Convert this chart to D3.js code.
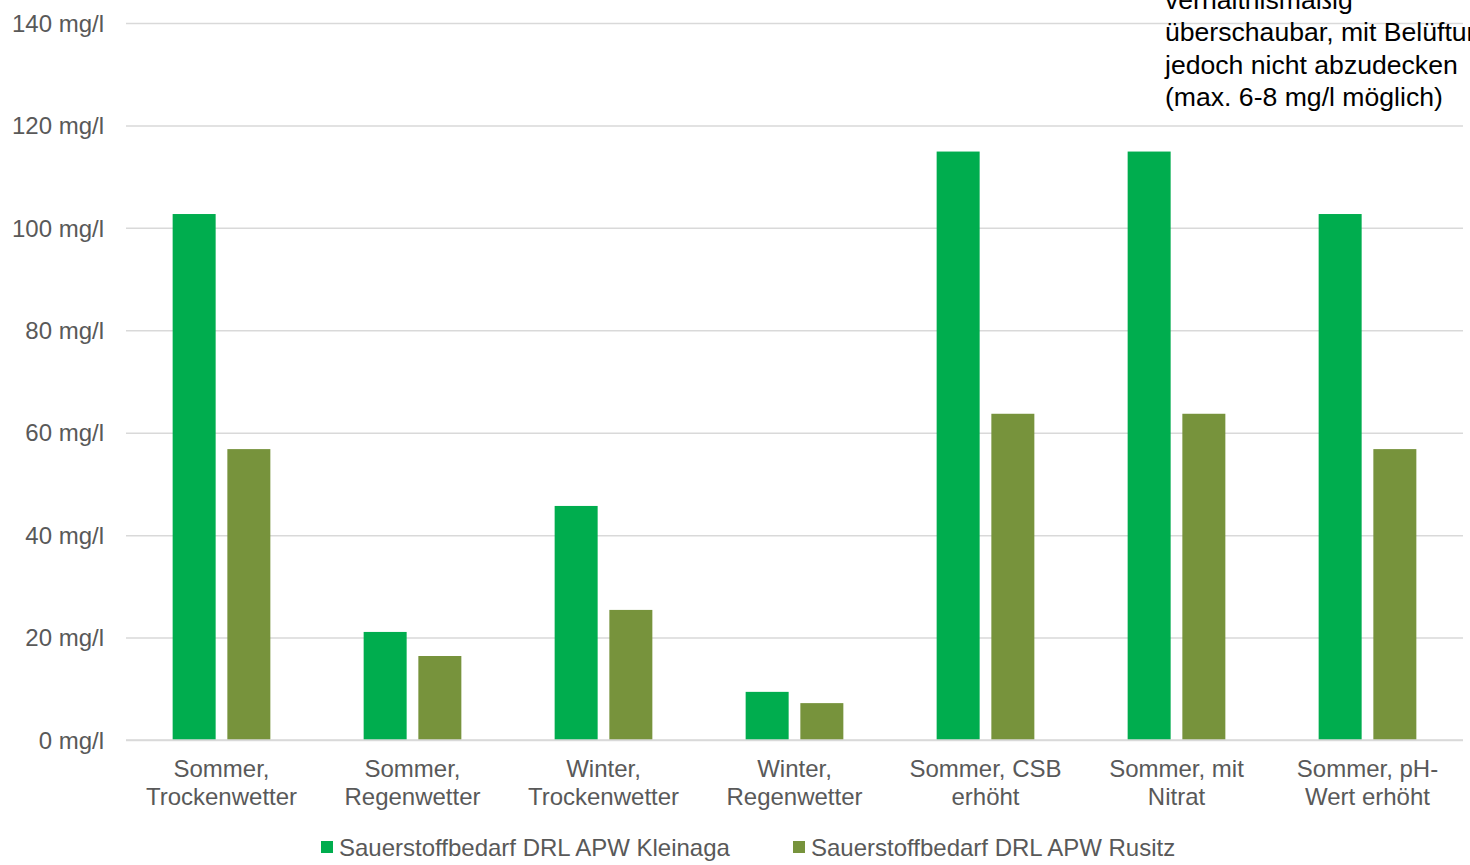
<!DOCTYPE html>
<html>
<head>
<meta charset="utf-8">
<script src="https://cdn.jsdelivr.net/npm/d3@7"></script>
<style>
  html, body { margin: 0; padding: 0; background: #fff; overflow: hidden; }
  svg { display: block; font-family: "Liberation Sans", Arial, sans-serif; }
</style>
</head>
<body>
<svg id="chart" width="1470" height="865"></svg>
<script>
// Scenario categories (two-line labels)
const categories = [
  ["Sommer,", "Trockenwetter"],
  ["Sommer,", "Regenwetter"],
  ["Winter,", "Trockenwetter"],
  ["Winter,", "Regenwetter"],
  ["Sommer, CSB", "erhöht"],
  ["Sommer, mit", "Nitrat"],
  ["Sommer, pH-", "Wert erhöht"]
];
// Oxygen demand in mg/l
const kleinaga = [102.7, 21.1, 45.7, 9.4, 114.9, 114.9, 102.7];
const rusitz   = [56.8, 16.4, 25.4, 7.2, 63.7, 63.7, 56.8];
const seriesNames = ["Sauerstoffbedarf DRL APW Kleinaga", "Sauerstoffbedarf DRL APW Rusitz"];
const seriesColors = ["#00ad4e", "#77933c"];
const yTicks = [0, 20, 40, 60, 80, 100, 120, 140];
const noteLines = [
  "verhältnismäßig",
  "überschaubar, mit Belüftung",
  "jedoch nicht abzudecken",
  "(max. 6-8 mg/l möglich)"
];

const svg = d3.select("#chart");
const plotLeft = 126, plotRight = 1463, plotTop = 23, plotBottom = 740;
const labelSize = "24px";

const x = d3.scaleBand().domain(d3.range(categories.length)).range([plotLeft, plotRight]);
const y = d3.scaleLinear().domain([0, 140]).range([plotBottom, plotTop]);

// gridlines + tick labels
const yAxis = d3.axisLeft(y).tickValues(yTicks).tickSize(-(plotRight - plotLeft)).tickPadding(22)
  .tickFormat(d => d + " mg/l");
const gy = svg.append("g").attr("transform", `translate(${plotLeft},0)`).call(yAxis);
gy.select(".domain").remove();
gy.selectAll(".tick line").attr("stroke", "#d9d9d9").attr("stroke-width", 1.5);
gy.selectAll(".tick text").attr("fill", "#595959").attr("font-size", labelSize)
  .attr("font-family", "Liberation Sans, Arial, sans-serif").attr("dy", "0.34em");

// bars
const barW = 43, gap = 11.7;
const series = [kleinaga, rusitz];
series.forEach((vals, si) => {
  svg.append("g").selectAll("rect").data(vals).join("rect")
    .attr("x", (d, i) => x(i) + x.bandwidth() / 2 - (barW + gap / 2) + si * (barW + gap))
    .attr("width", barW)
    .attr("y", d => y(d))
    .attr("height", d => y(0) - y(d))
    .attr("fill", seriesColors[si]);
});

// baseline drawn over bars
svg.append("line").attr("x1", plotLeft).attr("x2", plotRight).attr("y1", y(0)).attr("y2", y(0))
  .attr("stroke", "#d9d9d9").attr("stroke-width", 1.5);

// category labels
const catG = svg.append("g").attr("fill", "#595959").attr("font-size", labelSize).attr("text-anchor", "middle");
categories.forEach((lines, i) => {
  const cx = x(i) + x.bandwidth() / 2;
  const t = catG.append("text").attr("x", cx).attr("y", 777);
  lines.forEach((ln, j) => t.append("tspan").attr("x", cx).attr("dy", j === 0 ? 0 : 28).text(ln));
});

// legend
const legend = svg.append("g").attr("font-size", labelSize).attr("fill", "#595959");
const legendX = [321, 793];
seriesNames.forEach((name, i) => {
  legend.append("rect").attr("x", legendX[i]).attr("y", 841).attr("width", 12).attr("height", 12).attr("fill", seriesColors[i]);
  legend.append("text").attr("x", legendX[i] + 18).attr("y", 856).text(name);
});

// annotation text
const note = svg.append("text").attr("x", 1165).attr("y", 9).attr("font-size", "26.6px").attr("fill", "#000");
noteLines.forEach((ln, j) => note.append("tspan").attr("x", 1165).attr("dy", j === 0 ? 0 : 32.3).text(ln));
</script>
</body>
</html>
